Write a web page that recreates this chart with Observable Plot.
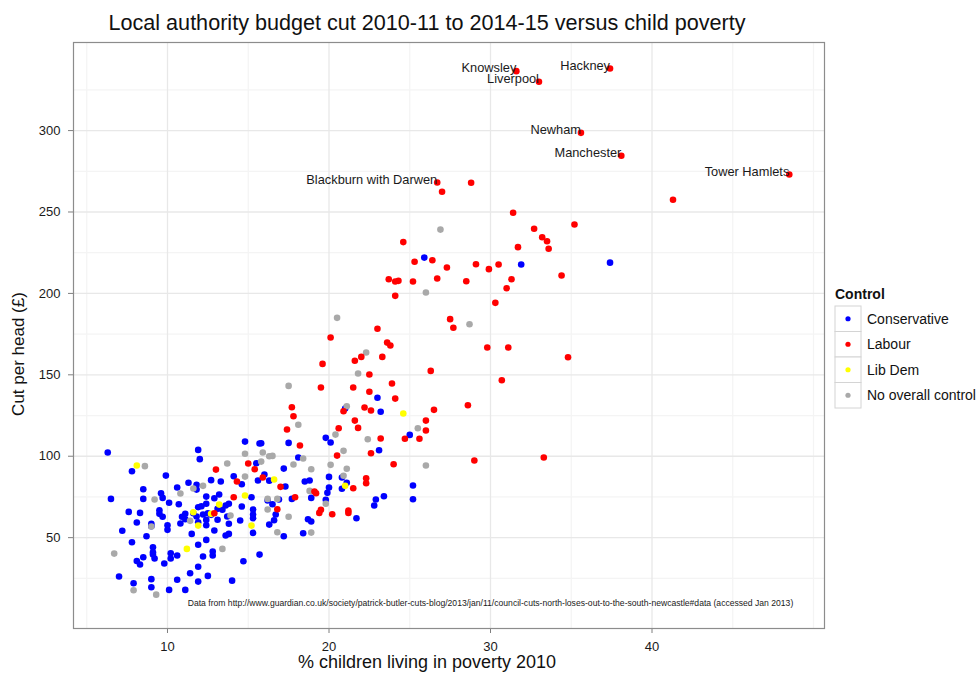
<!DOCTYPE html>
<html>
<head>
<meta charset="utf-8">
<script src="https://cdn.jsdelivr.net/npm/d3@7"></script>
<script src="https://cdn.jsdelivr.net/npm/@observablehq/plot@0.6"></script>
<style>
  body { margin: 0; background: #fff; }
  #chart { width: 979px; height: 675px; }
</style>
</head>
<body>
<div id="chart"></div>
<script>
// Budget cut per head (£) against % children in poverty, by controlling party.
const chartTitle = "Local authority budget cut 2010-11 to 2014-15 versus child poverty";
const xTitle = "% children living in poverty 2010";
const yTitle = "Cut per head (£)";
const legendTitle = "Control";
const caption = "Data from http://www.guardian.co.uk/society/patrick-butler-cuts-blog/2013/jan/11/council-cuts-north-loses-out-to-the-south-newcastle#data (accessed Jan 2013)";

const parties = ["Conservative", "Labour", "Lib Dem", "No overall control"];
const partyColors = ["#0000ff", "#ff0000", "#ffff00", "#a9a9a9"];

const xTicks = [10, 20, 30, 40];
const xMinor = [5, 15, 25, 35, 45, 50];
const yTicks = [50, 100, 150, 200, 250, 300];
const yMinor = [25, 75, 125, 175, 225, 275, 325];

// Named Labour authorities
const namedAreas = ["Knowsley", "Liverpool", "Hackney", "Newham", "Manchester", "Tower Hamlets", "Blackburn with Darwen"];
const namedX = [31.6, 33.0, 37.4, 35.6, 38.1, 48.5, 26.7];
const namedY = [336.5, 330, 338.1, 298.6, 284.5, 273, 268.1];

// Other Labour authorities
const labX = [28.8, 27.0, 41.3, 31.4, 35.2, 32.7, 33.2, 33.5, 33.6, 24.6, 31.7, 25.3, 26.4, 27.3, 29.1, 29.9, 30.5, 34.4,
  23.7, 24.1, 24.3, 25.2, 26.7, 28.5, 31.3, 31.0, 24.1, 30.3, 27.5, 27.7, 23.0, 20.1, 23.6, 23.8, 22.0, 21.6, 23.3,
  29.8, 31.1, 34.8, 19.6, 26.3, 22.5, 30.7, 19.5, 21.5, 23.9, 22.5, 24.1, 17.7, 20.9, 22.2, 22.6, 26.5, 28.6, 17.8,
  17.4, 21.6, 21.8, 20.6, 26.0, 26.0, 24.7, 25.6, 23.2, 18.2, 22.6, 20.5, 29.0, 33.3, 24.0, 13.0, 15.0, 15.4, 14.3,
  15.9, 14.1, 12.9, 17.0, 19.1, 19.2, 17.9, 21.5, 22.3, 22.3, 21.2, 21.2, 20.2, 19.5, 19.4, 16.8];
const labY = [268, 262.4, 257.5, 249.5, 242.3, 239.7, 234.5, 232, 227.4, 231.5, 228.4, 219.4, 220.4, 215.9, 217.9, 214.9, 217.8, 211,
  208.7, 207.3, 207.7, 207.3, 209.2, 207.5, 208.7, 203.2, 198.5, 194.2, 184.2, 178.9, 178.3, 172.9, 169.8, 168, 161, 158.6, 161,
  166.8, 166.8, 160.8, 156.7, 152.4, 150.2, 146.7, 142.2, 142.2, 144.7, 139.6, 135.4, 130.1, 127.6, 129.9, 128.1, 128.5, 131.3, 124.6,
  116.4, 121.9, 117.4, 117.2, 121.9, 115.8, 110.7, 110.7, 110.9, 106.6, 101.8, 100.4, 97.4, 99.2, 95.1, 91.8, 95.5, 92, 84.5,
  86.9, 74.8, 65, 81.2, 78.3, 77.3, 74.8, 80.3, 86.5, 83.4, 66.6, 65.2, 64.4, 67.1, 65.2, 67.4];

// Conservative authorities
const conX = [25.9, 31.9, 37.4, 23.0, 21.0, 23.2, 25.0, 19.8, 20.1, 17.5, 23.1, 18.1, 17.2, 6.3, 7.8, 9.9, 8.5, 6.5, 8.5,
  10.6, 11.3, 11.8, 11.8, 12.7, 13.3, 12.4, 13.2, 15.2, 11.9, 12.0, 14.8, 15.7, 15.5, 14.1, 14.6, 15.6, 16.0, 7.6, 8.3,
  8.1, 7.2, 7.8, 8.7, 8.1, 8.3, 8.5, 9.1, 9.1, 9.1, 7.0, 7.9, 9.0, 9.0, 10.1, 11.1, 10.6, 11.9, 12.5, 11.4, 11.9, 14.0,
  9.8, 10.2, 10.2, 9.2, 10.6, 12.2, 12.8, 12.8, 11.9, 12.4, 14.7, 15.7, 11.5, 10.0, 10.0, 9.0, 9.0, 9.6, 9.7, 9.5, 9.5,
  9.7, 10.1, 10.7, 10.9, 10.8, 11.1, 11.1, 11.6, 11.9, 12.1, 12.4, 12.9, 11.8, 11.9, 12.4, 12.4, 12.2, 12.5, 12.7, 13.1,
  13.4, 13.6, 13.8, 12.9, 13.1, 13.7, 13.8, 13.8, 13.6, 14.5, 14.6, 15.3, 15.3, 15.3, 15.3, 16.2, 15.8, 16.3, 17.3, 18.5,
  18.8, 18.9, 17.7, 20.0, 20.8, 21.1, 20.8, 20.0, 19.9, 19.8, 23.4, 22.9, 25.2, 25.2, 22.8, 21.7, 16.9, 16.5, 16.7, 16.6,
  16.3, 18.7, 18.9, 18.4, 17.2];
const conY = [222, 217.8, 218.9, 135.9, 129.3, 127.3, 113.1, 111.3, 108.4, 108.2, 103.7, 99.2, 92.4, 102.3, 90.8, 88.1, 79.7, 73.8, 73.8,
  80.8, 83.7, 82.4, 79.5, 85.3, 84.5, 75.2, 76.5, 74.8, 103.9, 98.2, 109, 107.8, 95.7, 87.7, 82.8, 85.1, 88.8, 65.8, 65.2,
  59.3, 54.2, 47.2, 50.9, 35.7, 33.5, 38, 44.1, 41, 39.6, 26.1, 22, 24.5, 19.5, 17.9, 17.9, 24.1, 23, 26.5, 28.1, 32.1, 23.6,
  34.1, 40.4, 37.2, 37.2, 39, 38.4, 41.5, 39, 45.6, 48.6, 35.5, 39.6, 52.3, 57.6, 54.8, 58.5, 57, 77.3, 74.4, 66.8, 64.6,
  62.8, 71.4, 70.5, 62.8, 58.7, 61.3, 64.6, 65, 68.7, 69.3, 70.8, 74.2, 63, 59.5, 60.9, 57.6, 64.2, 65, 64, 67.7,
  67.1, 69.7, 70.8, 54.4, 61, 63, 58.5, 52.3, 51.3, 60.5, 69.1, 67.3, 64.2, 61.9, 52.9, 72.8, 108, 85, 81.4, 84.5,
  85.1, 74.4, 73.8, 87.3, 86.9, 83.7, 80, 80.8, 77.5, 73.2, 75.4, 73.4, 82, 73.6, 69.7, 61.9, 73.4, 70.5, 64.2, 60.7,
  58, 61.3, 59.9, 52.7, 50.9];

// Liberal Democrat authorities
const ldX = [24.6, 8.1, 14.8, 11.2, 11.6, 11.9, 12.7, 13.2, 15.2, 16.6, 21.0];
const ldY = [126.2, 94.3, 75.9, 43.1, 65.6, 57.4, 64.6, 70.3, 57.4, 85.7, 81.8];

// Authorities with no overall control
const nocX = [26.9, 26.0, 20.5, 28.7, 22.3, 21.8, 17.5, 21.1, 18.1, 25.5, 20.4, 22.4, 20.9, 18.4, 16.5, 26.0, 17.8, 20.1,
  18.9, 21.1, 8.6, 10.8, 11.6, 12.2, 14.8, 15.9, 13.7, 15.8, 14.8, 16.3, 6.7, 7.9, 9.3, 9.0, 9.2, 11.4, 13.4, 13.9, 16.2,
  18.8, 16.2, 16.8, 20.9, 19.8, 17.5, 18.9, 16.8];
const nocY = [239.2, 200.6, 185, 181.1, 163.7, 150.8, 143.2, 130.7, 119.3, 117.2, 113.3, 110.4, 103.3, 98.6, 100.2, 94.3, 94.9, 94.7,
  92, 92.3, 93.9, 77.1, 80.2, 81.8, 101.5, 102.3, 95.5, 96.7, 87.5, 100, 40.2, 17.7, 15, 56.8, 73.4, 60.3, 43.1, 63.6, 67.3,
  78.7, 73.8, 73.8, 88, 70.8, 62.8, 53.1, 53.3];

const named = namedAreas.map((name, i) => ({name, poverty: namedX[i], cut: namedY[i]}));

const rows = [];
function addGroup(group, xs, ys) {
  xs.forEach((x, i) => rows.push({group, poverty: x, cut: ys[i]}));
}
addGroup("Conservative", conX, conY);
addGroup("No overall control", nocX, nocY);
addGroup("Lib Dem", ldX, ldY);
addGroup("Labour", labX, labY);
named.forEach(d => rows.push({group: "Labour", poverty: d.poverty, cut: d.cut}));

const font = "'Liberation Sans', Arial, Helvetica, sans-serif";

const plot = Plot.plot({
  width: 979,
  height: 675,
  marginLeft: 73,
  marginRight: 155,
  marginTop: 42,
  marginBottom: 47,
  style: {fontFamily: font, fontSize: "13px", background: "#fff", color: "#1a1a1a"},
  x: {domain: [4.18, 50.68], ticks: xTicks, tickSize: 5, tickPadding: 8, label: null},
  y: {domain: [-5.8, 354.1], ticks: yTicks, tickSize: 5, tickPadding: 8, label: null},
  color: {domain: parties, range: partyColors},
  marks: [
    Plot.ruleX(xMinor, {stroke: "#f4f4f4", strokeWidth: 1.2}),
    Plot.ruleY(yMinor, {stroke: "#f4f4f4", strokeWidth: 1.2}),
    Plot.ruleX(xTicks, {stroke: "#e8e8e8", strokeWidth: 1.3}),
    Plot.ruleY(yTicks, {stroke: "#e8e8e8", strokeWidth: 1.3}),
    Plot.text([caption], {x: () => 30, y: () => 10, text: d => d, fontSize: 8.6, fill: "#1a1a1a"}),
    Plot.dot(rows, {x: "poverty", y: "cut", fill: "group", r: 3.3, stroke: "none"}),
    Plot.text(named, {x: "poverty", y: "cut", text: "name", textAnchor: "end", dy: -3, fontSize: 12.8, fill: "#1a1a1a"}),
    Plot.frame({stroke: "#8c8c8c", strokeWidth: 1.2})
  ]
});

document.getElementById("chart").appendChild(plot);

const svg = d3.select(plot);
svg.selectAll("[aria-label^='x-axis'] line, [aria-label^='y-axis'] line, [aria-label^='x-axis'] path, [aria-label^='y-axis'] path")
  .attr("stroke", "#7f7f7f");

svg.append("text")
  .attr("x", 427).attr("y", 30)
  .attr("text-anchor", "middle")
  .attr("font-family", font).attr("font-size", 21.6).attr("fill", "#111")
  .text(chartTitle);

svg.append("text")
  .attr("x", 427).attr("y", 668)
  .attr("text-anchor", "middle")
  .attr("font-family", font).attr("font-size", 18).attr("fill", "#111")
  .text(xTitle);

svg.append("text")
  .attr("transform", "translate(24,354) rotate(-90)")
  .attr("text-anchor", "middle")
  .attr("font-family", font).attr("font-size", 17).attr("fill", "#111")
  .text(yTitle);

// Legend
const lg = svg.append("g").attr("font-family", font).attr("text-anchor", "start");
lg.append("text").attr("x", 835).attr("y", 299)
  .attr("font-size", 14).attr("font-weight", "bold").attr("fill", "#111")
  .text(legendTitle);
parties.forEach((p, i) => {
  const y0 = 306 + i * 25.5;
  lg.append("rect").attr("x", 835).attr("y", y0).attr("width", 26).attr("height", 25.5)
    .attr("fill", "#fff").attr("stroke", "#d4d4d4");
  lg.append("circle").attr("cx", 848).attr("cy", y0 + 12.75).attr("r", 2.6).attr("fill", partyColors[i]);
  lg.append("text").attr("x", 867).attr("y", y0 + 12.75).attr("dy", "0.35em")
    .attr("font-size", 14).attr("fill", "#111").text(p);
});
</script>
</body>
</html>
